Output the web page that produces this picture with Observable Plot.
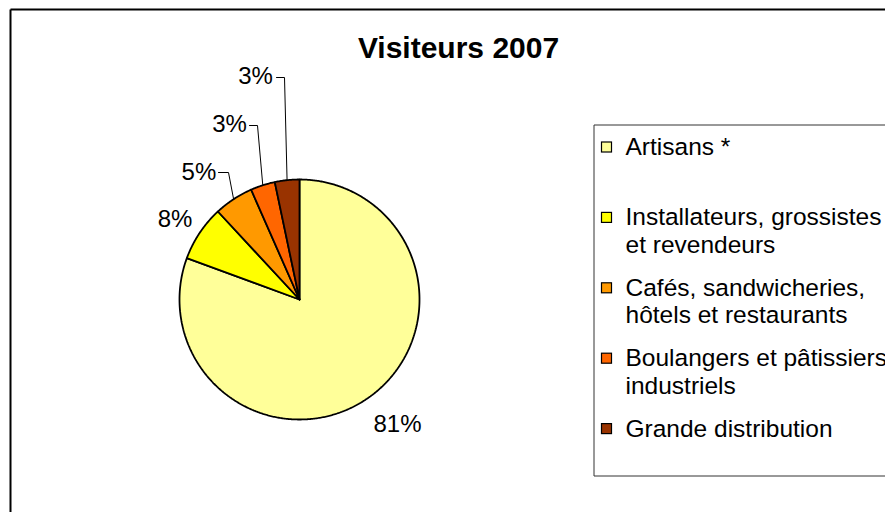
<!DOCTYPE html>
<html><head><meta charset="utf-8">
<script src="https://cdn.jsdelivr.net/npm/d3@7"></script>
<script src="https://cdn.jsdelivr.net/npm/@observablehq/plot@0.6"></script>
<style>html,body{margin:0;padding:0;background:#fff;overflow:hidden}svg{overflow:hidden}</style>
</head><body><div id="chart"></div>
<script>
// ---- data ----
const title = "Visiteurs 2007";
const categories = [
  "Artisans *",
  "Installateurs, grossistes\net revendeurs",
  "Cafés, sandwicheries,\nhôtels et restaurants",
  "Boulangers et pâtissiers\nindustriels",
  "Grande distribution"
];
const shares = [80.6, 7.5, 5.3, 3.3, 3.3];
const colors = ["#FFFF99", "#FFFF00", "#FF9900", "#FF6600", "#993300"];

// ---- layout ----
const W = 885, H = 512;
const cx = 299, cy = 299, R = 120;
const labelAt = [
  {x: 397, y: 423.6},
  {x: 174.5, y: 219.3},
  {x: 198.4, y: 171.6},
  {x: 229, y: 124.3},
  {x: 255, y: 75.6}
];
const elbows = [null, null, {x0: 218, x1: 228, y: 172}, {x0: 249, x1: 257, y: 125}, {x0: 276, x1: 284, y: 77}];

const total = d3.sum(shares);
const cum = d3.cumsum(shares);
const slices = categories.map((cat, i) => {
  const a0 = (i === 0 ? 0 : cum[i - 1]) / total * 2 * Math.PI;
  const a1 = cum[i] / total * 2 * Math.PI;
  return {cat, i, a0, a1, mid: (a0 + a1) / 2, pct: Math.round(shares[i] / total * 100) + "%"};
});
const pt = (a, r) => ({x: cx + r * Math.sin(a), y: cy - r * Math.cos(a)});

const slicePts = [];
for (const s of slices) {
  slicePts.push({cat: s.cat, x: cx, y: cy});
  const n = Math.max(2, Math.ceil((s.a1 - s.a0) / (Math.PI / 360)));
  for (let k = 0; k <= n; k++) {
    const p = pt(s.a0 + (s.a1 - s.a0) * k / n, R);
    slicePts.push({cat: s.cat, ...p});
  }
  slicePts.push({cat: s.cat, x: cx, y: cy});
}

const labels = slices.map(s => ({text: s.pct, ...labelAt[s.i]}));
const leaderPts = [];
slices.forEach(s => {
  const e = elbows[s.i];
  if (!e) return;
  const edge = pt(s.mid, R);
  leaderPts.push({i: s.i, x: e.x0, y: e.y}, {i: s.i, x: e.x1, y: e.y}, {i: s.i, ...edge});
});

const legendTop = 135, legendStep = 70.4;
const legend = categories.map((cat, i) => ({cat, top: legendTop + i * legendStep}));

// open-ended frames (top + left sides only for the chart area; top, left, bottom for the legend box)
const frameLines = [
  {x1: 10, x2: W, y1: 9, y2: 9, w: 2, c: "#000"},
  {x1: 10, x2: 10, y1: 9, y2: H, w: 2, c: "#000"},
  {x1: 593.5, x2: W, y1: 124.5, y2: 124.5, w: 1, c: "#333"},
  {x1: 593.5, x2: 593.5, y1: 124.5, y2: 475.5, w: 1, c: "#333"},
  {x1: 593.5, x2: W, y1: 475.5, y2: 475.5, w: 1, c: "#333"}
];

const chart = Plot.plot({
  width: W, height: H,
  margin: 0,
  x: {domain: [0, W], range: [0, W], axis: null},
  y: {domain: [0, H], range: [0, H], axis: null},
  color: {domain: categories, range: colors},
  style: {fontFamily: "'Liberation Sans', Arial, sans-serif", background: "#fff", overflow: "hidden"},
  marks: [
    Plot.link(frameLines, {x1: "x1", x2: "x2", y1: "y1", y2: "y2", stroke: "c", strokeWidth: "w"}),
    Plot.text([{t: title, x: 458, y: 47.4}], {x: "x", y: "y", text: "t", fontSize: 30, fontWeight: "bold", fill: "#000"}),
    Plot.line(slicePts, {x: "x", y: "y", z: "cat", fill: "cat", stroke: "#000", strokeWidth: 1.8, curve: "linear", strokeLinejoin: "miter"}),
    Plot.line(leaderPts, {x: "x", y: "y", z: "i", stroke: "#000", strokeWidth: 1, curve: "linear"}),
    Plot.text(labels, {x: "x", y: "y", text: "text", fontSize: 24, fill: "#000"}),
    Plot.rect(legend, {x1: 601.5, x2: 611.5, y1: d => d.top + 7, y2: d => d.top + 17, fill: "cat", stroke: "#000", strokeWidth: 1.2}),
    Plot.text(legend, {x: 625, y: "top", text: "cat", textAnchor: "start", lineAnchor: "top", fontSize: 24.5, lineHeight: 1.12, fill: "#000"})
  ]
});
document.getElementById("chart").appendChild(chart);
</script>
</body></html>
